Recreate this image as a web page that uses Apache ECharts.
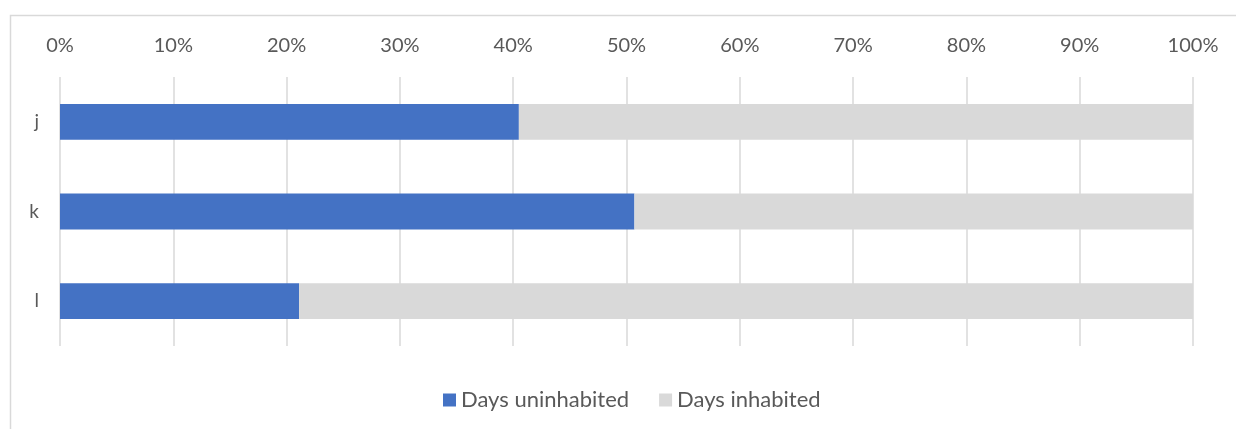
<!DOCTYPE html>
<html>
<head>
<meta charset="utf-8">
<script src="https://cdn.jsdelivr.net/npm/echarts@6/dist/echarts.min.js"></script>
<style>
html,body{margin:0;padding:0;background:#fff;}
#c{width:1236px;height:429px;}
</style>
</head>
<body>
<div id="c"></div>
<script>
var categories = ['j', 'k', 'l'];
var daysUninhabited = [40.5, 50.7, 21.1];
var daysInhabited = [59.5, 49.3, 78.9];
var seriesNames = ['Days uninhabited', 'Days inhabited'];

var chart = echarts.init(document.getElementById('c'));
var font = 'Lato, "Open Sans", sans-serif';
chart.setOption({
  animation: false,
  backgroundColor: '#fff',
  graphic: [{
    type: 'rect',
    shape: {x: 10.5, y: 15.5, width: 1300, height: 500},
    style: {fill: 'none', stroke: '#D9D9D9', lineWidth: 1.5},
    silent: true, z: -1
  }],
  grid: {left: 60, top: 77, width: 1133, height: 269},
  legend: {
    data: seriesNames,
    top: 384,
    left: 438,
    itemWidth: 13,
    itemHeight: 13,
    itemGap: 30,
    icon: 'rect',
    textStyle: {color: '#595959', fontSize: 22, fontFamily: font}
  },
  xAxis: {
    type: 'value',
    position: 'top',
    min: 0, max: 100, interval: 10,
    axisLine: {show: false},
    axisTick: {show: false},
    axisLabel: {formatter: '{value}%', color: '#595959', fontSize: 20, fontFamily: font, margin: 21},
    splitLine: {show: true, lineStyle: {color: '#D9D9D9', width: 1.5}}
  },
  yAxis: {
    type: 'category',
    data: categories,
    inverse: true,
    axisLine: {show: false},
    axisTick: {show: false},
    axisLabel: {color: '#595959', fontSize: 19, fontFamily: font, margin: 21}
  },
  series: [
    {name: seriesNames[0], type: 'bar', stack: 's', data: daysUninhabited,
     barCategoryGap: '60%', itemStyle: {color: '#4472C4'}},
    {name: seriesNames[1], type: 'bar', stack: 's', data: daysInhabited,
     barCategoryGap: '60%', itemStyle: {color: '#D9D9D9'}}
  ]
});
</script>
</body>
</html>
